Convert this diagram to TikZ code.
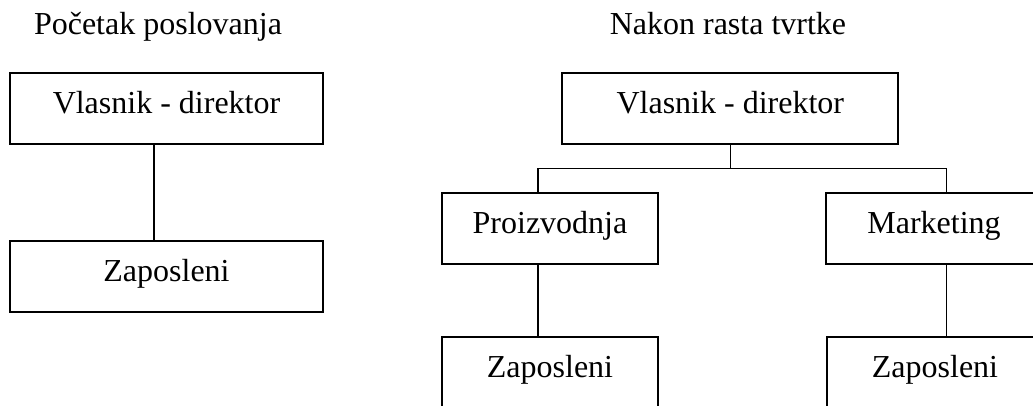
\documentclass[tikz,border=0pt]{standalone}
\usepackage{fontspec}
\setmainfont{Liberation Serif}
\begin{document}
\begin{tikzpicture}[x=0.75pt,y=-0.75pt,
  font=\fontsize{24pt}{28pt}\selectfont,
  orgbox/.style={draw, line width=1.3pt, rectangle, anchor=north west,
    inner xsep=0pt, inner ysep=0pt, outer sep=0pt,
    text height=30.5pt, text depth=23.2pt},
  wide/.style={orgbox, minimum width=234.75pt},
  wider/.style={orgbox, minimum width=252pt},
  narrow/.style={orgbox, minimum width=162pt},
  title/.style={anchor=base, inner sep=0pt},
  link/.style={line width=1.1pt}]
\useasboundingbox (0,0) rectangle (1033,406);
\clip (0,0) rectangle (1033,406);

% headings
\node[title] (t1) at (158,35) {Početak poslovanja};
\node[title] (t2) at (728,35) {Nakon rasta tvrtke};

% small firm: owner and staff
\node[wide] (own1) at (10,72.7) {Vlasnik - direktor};
\node[wide] (emp1) at (10,240.7) {Zaposleni};
\draw[link] ([xshift=-9.4pt]own1.south) -- ([xshift=-9.4pt]own1.south |- emp1.north);

% grown firm: owner, departments, staff
\node[wider] (own2) at (562.3,72.7) {Vlasnik - direktor};
\node[narrow] (prod) at (442,192.7) {Proizvodnja};
\node[narrow] (mark) at (826,192.7) {Marketing};
\node[narrow] (emp2) at (442,336.7) {Zaposleni};
\node[narrow] (emp3) at (827,336.7) {Zaposleni};

\coordinate (bar) at ([yshift=-18.2pt]own2.south);
\draw[link] (own2.south) -- (bar);
\draw[link] ([xshift=-9pt]prod.north) |- (bar) -| ([xshift=9.5pt]mark.north);
\draw[link] ([xshift=-9pt]prod.south) -- ([xshift=-9pt]prod.south |- emp2.north);
\draw[link] ([xshift=9.5pt]mark.south) -- ([xshift=9.5pt]mark.south |- emp3.north);
\end{tikzpicture}
\end{document}
